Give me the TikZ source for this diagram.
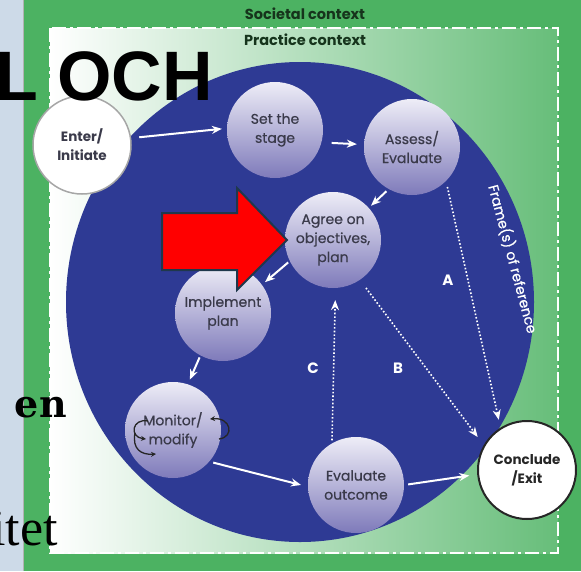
\documentclass[tikz,border=0pt]{standalone}
\usepackage{fontspec}
\setmainfont{Poppins}
\newfontfamily\bubblefont[FakeBold=0.6]{Poppins}
\newfontfamily\slidesans{Liberation Sans}
\newfontfamily\slideserif{Liberation Serif}
\newfontfamily\slideheavy{DejaVu Serif}
\usetikzlibrary{arrows.meta}

\definecolor{stripBlue}{RGB}{205,218,232}
\definecolor{frameGreen}{RGB}{76,178,98}
\definecolor{discBlue}{RGB}{46,58,148}
\definecolor{bubbleTop}{RGB}{238,237,247}
\definecolor{bubbleBot}{RGB}{126,122,186}
\definecolor{bubbleText}{RGB}{58,58,74}
\definecolor{labelGreen}{RGB}{22,52,28}
\definecolor{arrowRed}{RGB}{255,0,0}
\definecolor{arrowEdge}{RGB}{31,56,76}

\tikzset{
  bubble/.style={circle, minimum size=96pt, inner sep=0pt, top color=bubbleTop, bottom color=bubbleBot, text=bubbleText, align=center, font=\bubblefont\fontsize{14}{19}\selectfont},
  endpoint/.style={circle, minimum size=98pt, inner sep=0pt, fill=white, align=center, text=bubbleText, font=\bfseries\fontsize{13.5}{19}\selectfont},
  flow/.style={draw=white, line width=2pt, -{Stealth[length=10pt,width=8pt]}},
  route/.style={draw=white, line width=1.6pt, dotted, -{Stealth[length=10pt,width=8pt]}},
  curl/.style={draw=black!85, line width=1.3pt, -{Stealth[length=5pt,width=5pt]}},
  letter/.style={text=white, font=\bfseries\fontsize{15}{15}\selectfont},
}

\begin{document}
\begin{tikzpicture}[x=1pt,y=-1pt]

	\useasboundingbox (0,0) rectangle (581,571);
	\fill[frameGreen] (0,0) rectangle (581,571);
	\fill[stripBlue] (0,0) rectangle (23,571);
	\draw[gray!60, line width=1pt] (23.5,0) -- (23.5,571);

	% practice context frame
	\shade[left color=white, right color=frameGreen!85!white] (50,28) rectangle (558,553);
	\draw[white, line width=2.5pt, dash pattern=on 14pt off 4pt on 3pt off 4pt] (50,28) rectangle (558,553);
	\node[text=labelGreen, font=\bfseries\fontsize{14.5}{15}\selectfont] (lblSociety) at (305,14) {Societal context};
	\node[text=labelGreen, font=\bfseries\fontsize{14.5}{15}\selectfont] (lblPractice) at (305,40) {Practice context};

	% frames of reference
	\fill[discBlue] (300,302) ellipse [x radius=234pt, y radius=240pt];
	\node[text=white, rotate=-75, font=\bubblefont\fontsize{14}{14}\selectfont] (lblFrames) at (513,259) {Frame(s) of reference};

	\node[endpoint, draw=gray!70, line width=1.5pt] (Enter) at (82,145) {Enter/\\Initiate};
	\node[bubble] (Stage) at (275,130) {Set the\\stage};
	\node[bubble] (Assess) at (412,147) {Assess/\\Evaluate};
	\node[bubble] (Agree) at (333,240) {Agree on\\objectives,\\plan};
	\node[bubble] (Implement) at (223,313) {Implement\\plan};
	\node[bubble] (Monitor) at (173,430) {Monitor/\\modify};
	\node[bubble] (Outcome) at (356,485) {Evaluate\\outcome};
	\node[endpoint, draw=black!85, line width=2pt, text=black!85] (Conclude) at (527,470) {Conclude\\/Exit};

	\draw[flow, shorten <=8pt, shorten >=5pt] (Enter.8) -- (Stage.178);
	\draw[flow, shorten <=10pt, shorten >=7pt] (Stage.-15) -- (Assess.177);
	\draw[flow, shorten <=3pt, shorten >=3pt] (Assess.-119) -- (Agree.42);
	\draw[flow, shorten <=2pt, shorten >=4pt] (Agree.-154) -- (Implement.36);
	\draw[flow, shorten <=2pt, shorten >=5pt] (Implement.-118) -- (Monitor.72);
	\draw[flow, shorten <=4pt, shorten >=7pt] (Monitor.-41) -- (Outcome.182);
	\draw[flow, shorten <=4pt, shorten >=8pt] (Outcome.0) -- (Conclude.185);

	\draw[route, shorten <=6pt, shorten >=8pt] (Assess.-45) -- (Conclude.122);
	\draw[route, shorten <=10pt, shorten >=10pt] (Agree.-56) -- (Conclude.150);
	\draw[route, shorten <=3pt, shorten >=12pt] (Outcome.120) -- (Agree.-87);
	\node[letter] (lblA) at (448,280) {A};
	\node[letter] (lblB) at (398,368) {B};
	\node[letter] (lblC) at (313,368) {C};

	% monitor loops
	\draw[curl] (148,421) .. controls (132,418) and (129,437) .. (146,439);
	\draw[curl] (135,433) .. controls (132,449) and (141,455) .. (156,454);
	\draw[curl] (219,439) .. controls (235,437) and (231,417) .. (210,419);

	% slide overlay
	\draw[fill=arrowRed, draw=arrowEdge, line width=2pt, line join=miter] (162,213) -- (237,213) -- (237,188) -- (287,240) -- (237,290) -- (237,270) -- (162,270) -- cycle;
	\node[font=\slidesans\bfseries\fontsize{70}{70}\selectfont, anchor=base west, inner sep=0pt] (lblOch) at (-5,100) {L OCH};
	\node[font=\slideheavy\bfseries\fontsize{38}{38}\selectfont, anchor=base east, inner sep=0pt] (lblEn) at (67,417) {en};
	\node[font=\slideserif\fontsize{52}{52}\selectfont, anchor=base east, inner sep=0pt] (lblItet) at (58,545) {itet};

\end{tikzpicture}
\end{document}
